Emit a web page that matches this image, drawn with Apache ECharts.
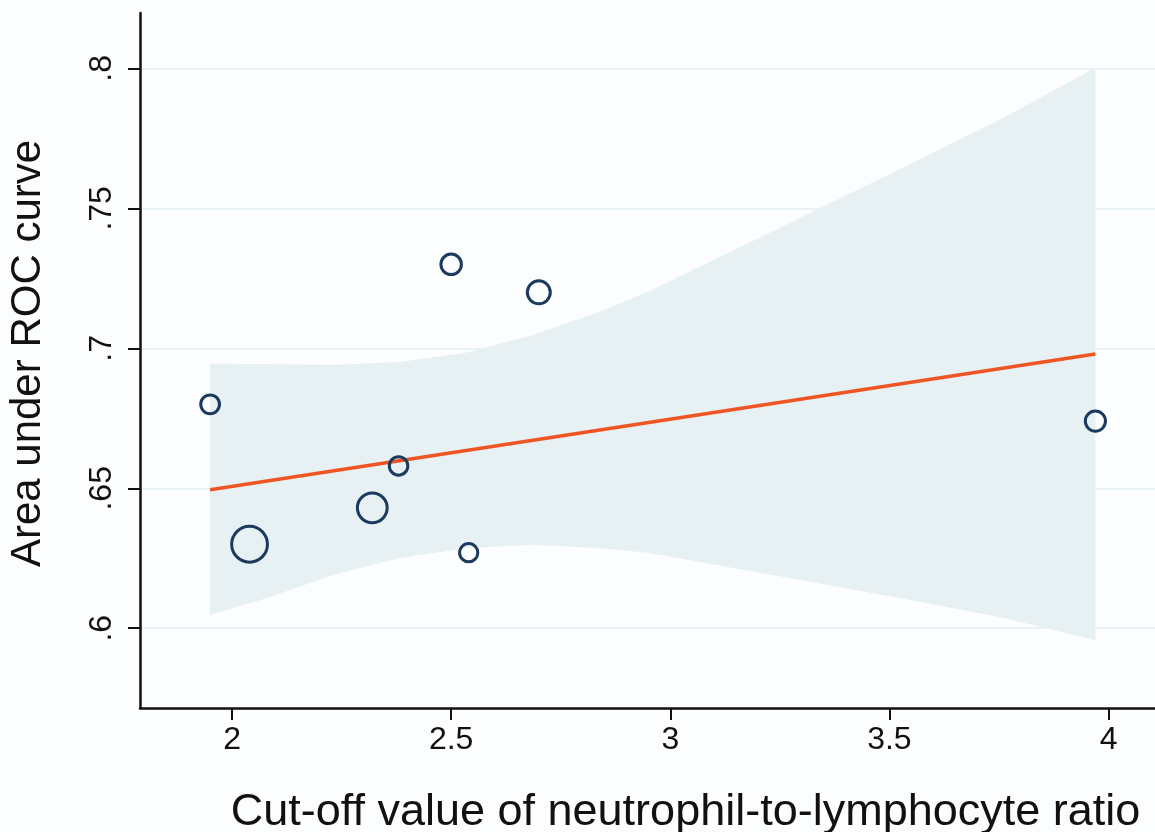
<!DOCTYPE html>
<html><head><meta charset="utf-8">
<script src="https://cdn.jsdelivr.net/npm/echarts@6/dist/echarts.min.js"></script>
<style>html,body{margin:0;padding:0;background:#fcfdfe}#c{width:1155px;height:832px}</style>
</head><body><div id="c"></div>
<script>
// ---- data ----
const xTicks = [2, 2.5, 3, 3.5, 4];
const xTickLabels = ['2', '2.5', '3', '3.5', '4'];
const yTicks = [0.6, 0.65, 0.7, 0.75, 0.8];
const yTickLabels = ['.6', '.65', '.7', '.75', '.8'];

const cutoff = [1.95, 2.04, 2.32, 2.38, 2.54, 2.50, 2.70, 3.97];
const auc    = [0.680, 0.630, 0.643, 0.658, 0.627, 0.730, 0.720, 0.674];
const weight = [353, 1282, 888, 342, 331, 420, 529, 408];

const fitX = [1.95, 3.97];
const fitY = [0.6495, 0.698];

const bandX     = [1.95, 2.08, 2.23, 2.383, 2.536, 2.687, 2.839, 2.953, 3.067, 3.295, 3.523, 3.751, 3.97];
const bandLower = [0.6048, 0.6108, 0.6190, 0.6251, 0.6287, 0.6298, 0.6287, 0.6269, 0.6237, 0.6173, 0.6108, 0.6040, 0.5958];
const bandUpper = [0.6945, 0.6944, 0.6940, 0.6951, 0.6985, 0.7048, 0.7131, 0.7205, 0.7291, 0.7465, 0.7640, 0.7816, 0.8002];

// ---- chart ----
const font = '"Liberation Sans", Arial, Helvetica, sans-serif';
const ink = '#111111';
const chart = echarts.init(document.getElementById('c'), null, {renderer: 'canvas'});

function labelFor(ticks, labels, v) {
  const i = ticks.findIndex(t => Math.abs(t - v) < 1e-6);
  return i >= 0 ? labels[i] : '';
}

const option = {
  backgroundColor: '#fcfdfe',
  animation: false,
  grid: {left: 140, right: 0, top: 13, bottom: 124, containLabel: false, outerBoundsMode: 'none'},
  xAxis: {
    type: 'value', min: 1.79, max: 4.106,
    name: 'Cut-off value of neutrophil-to-lymphocyte ratio',
    nameLocation: 'middle', nameGap: 82,
    nameTextStyle: {fontFamily: font, fontSize: 45, color: ink, padding: [0, 0, 0, 76]},
    axisLine: {show: true, onZero: false, lineStyle: {color: ink, width: 2.5}},
    axisTick: {show: true, length: 12, customValues: xTicks, lineStyle: {color: ink, width: 2}},
    axisLabel: {show: true, customValues: xTicks, margin: 16, fontFamily: font, fontSize: 32, color: ink,
      formatter: v => labelFor(xTicks, xTickLabels, v)},
    splitLine: {show: false}
  },
  yAxis: {
    type: 'value', min: 0.5715, max: 0.8198,
    name: 'Area under ROC curve',
    nameLocation: 'middle', nameGap: 91, nameRotate: 90,
    nameTextStyle: {fontFamily: font, fontSize: 42, color: ink, padding: [0, 0, 0, 14]},
    axisLine: {show: true, onZero: false, lineStyle: {color: ink, width: 2.5}},
    axisTick: {show: true, length: 12, customValues: yTicks, lineStyle: {color: ink, width: 2}},
    axisLabel: {show: true, customValues: yTicks, rotate: 90, margin: 22, fontFamily: font, fontSize: 32, color: ink,
      formatter: v => labelFor(yTicks, yTickLabels, v)},
    splitLine: {show: true, lineStyle: {color: '#e2edf1', width: 1.5}}
  },
  series: [
    {
      type: 'custom', silent: true, z: 1,
      data: [[bandX[0], bandLower[0]]],
      renderItem: function (params, api) {
        const pts = [];
        for (let i = 0; i < bandX.length; i++) pts.push(api.coord([bandX[i], bandUpper[i]]));
        for (let i = bandX.length - 1; i >= 0; i--) pts.push(api.coord([bandX[i], bandLower[i]]));
        return {type: 'polygon', shape: {points: pts}, style: {fill: '#e7f0f2', stroke: null}};
      }
    },
    {
      type: 'line', z: 3, silent: true, symbol: 'none',
      data: fitX.map((x, i) => [x, fitY[i]]),
      lineStyle: {color: '#ef5423', width: 3.5}
    },
    {
      type: 'scatter', z: 4, silent: true,
      data: cutoff.map((x, i) => [x, auc[i], weight[i]]),
      symbolSize: d => Math.sqrt(d[2]),
      itemStyle: {color: 'rgba(0,0,0,0)', borderColor: '#1c3a5e', borderWidth: 3, opacity: 1}
    }
  ]
};
chart.setOption(option);
</script>
</body></html>
